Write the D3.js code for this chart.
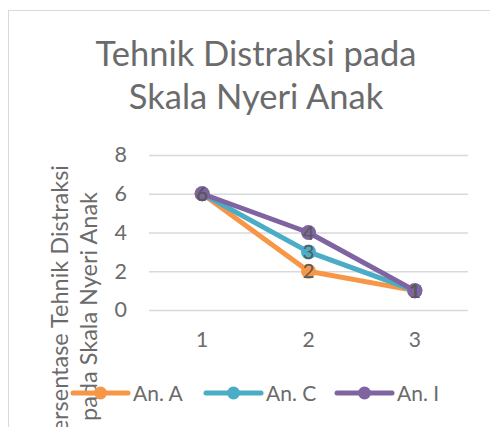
<!DOCTYPE html>
<html><head><meta charset="utf-8">
<script src="https://cdn.jsdelivr.net/npm/d3@7"></script>
<style>body{margin:0;background:#fff}svg{display:block}text{font-family:Lato,"Open Sans",sans-serif}</style>
</head><body><svg id="c" width="490" height="427"></svg>
<script>
const categories = ["1","2","3"];
const seriesNames = ["An. A","An. C","An. I"];
const valuesA = [6,2,1];
const valuesC = [6,3,1];
const valuesI = [6,4,1];
const yTicks = [0,2,4,6,8];
const titleLines = ["Tehnik Distraksi pada","Skala Nyeri Anak"];
const yTitleLines = ["Persentase Tehnik Distraksi","pada Skala Nyeri Anak"];
const colors = ["#F79646","#4BACC6","#8064A2"];

(function(){
const series = [valuesA, valuesC, valuesI].map((v,i)=>({name:seriesNames[i], values:v, color:colors[i]}));
const svg = d3.select("#c");
const textCol = "#6b6b6b";

svg.append("rect").attr("x",8.5).attr("y",10.5).attr("width",600).attr("height",600)
  .attr("fill","#fff").attr("stroke","#d9d9d9");

const pL=149, pR=468, pT=155, pB=310;
const x = d3.scaleBand().domain(categories).range([pL,pR]);
const y = d3.scaleLinear().domain([0,8]).range([pB,pT]);

titleLines.forEach((t,i)=>{
  svg.append("text").attr("x",256).attr("y",66+i*43).attr("text-anchor","middle")
    .attr("font-size",34.5).attr("fill",textCol).text(t);
});

const yAxis = d3.axisLeft(y).tickValues(yTicks).tickSize(-(pR-pL)).tickPadding(22);
const gy = svg.append("g").attr("transform",`translate(${pL},0)`).call(yAxis);
gy.select(".domain").remove();
gy.selectAll(".tick line").attr("stroke","#d9d9d9").attr("stroke-width",1.5);
gy.selectAll(".tick text").attr("font-size",21.5).attr("fill",textCol).attr("font-family","Lato");

const xAxis = d3.axisBottom(x).tickSize(0).tickPadding(22);
const gx = svg.append("g").attr("transform",`translate(0,${pB})`).call(xAxis);
gx.select(".domain").remove();
gx.selectAll(".tick text").attr("font-size",21).attr("fill",textCol).attr("font-family","Lato");

const yt = svg.append("g");
yTitleLines.forEach((t,i)=>{
  const [px,py] = [[68,165],[97,192]][i];
  yt.append("text").attr("transform",`translate(${px},${py}) rotate(-90)`)
    .attr("text-anchor","end").attr("font-size",23.5).attr("fill",textCol).text(t);
});

const line = d3.line().x((d,i)=>x(categories[i])+x.bandwidth()/2).y(d=>y(d));
series.forEach(s=>{
  svg.append("path").datum(s.values).attr("d",line).attr("fill","none")
    .attr("stroke",s.color).attr("stroke-width",5).attr("stroke-linejoin","round");
  svg.selectAll(null).data(s.values).enter().append("circle")
    .attr("cx",(d,i)=>x(categories[i])+x.bandwidth()/2).attr("cy",d=>y(d)).attr("r",7.5)
    .attr("fill",s.color);
});
series.forEach(s=>{
  svg.selectAll(null).data(s.values).enter().append("text")
    .attr("x",(d,i)=>x(categories[i])+x.bandwidth()/2).attr("y",d=>y(d))
    .attr("dy","0.36em").attr("text-anchor","middle").attr("font-size",20)
    .attr("fill","#595959").text(d=>d);
});

const legX = [73,206,337];
series.forEach((s,i)=>{
  const g = svg.append("g").attr("transform",`translate(${legX[i]},393)`);
  g.append("line").attr("x1",0).attr("x2",55).attr("stroke",s.color).attr("stroke-width",5).attr("stroke-linecap","round");
  g.append("circle").attr("cx",27.5).attr("r",6.5).attr("fill",s.color);
  g.append("text").attr("x",60).attr("dy","0.36em").attr("font-size",21).attr("fill",textCol).text(s.name);
});
})();
</script></body></html>
